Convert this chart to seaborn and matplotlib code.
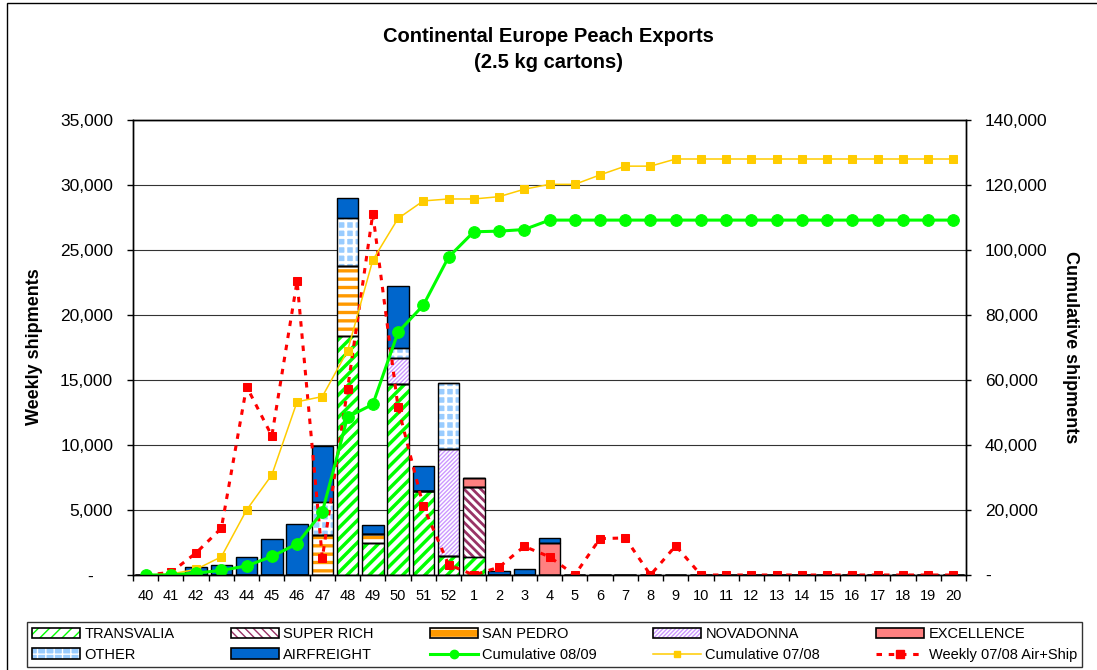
## Exportações de pêssego - Europa continental (caixas de 2.5 kg)
import numpy as np
import pandas as pd
import matplotlib
matplotlib.use("Agg")
import matplotlib.pyplot as plt
from matplotlib.patches import Patch, Rectangle
from matplotlib.lines import Line2D
from matplotlib.ticker import FuncFormatter, MultipleLocator
import seaborn as sns

plt.rcParams['font.family'] = ['Liberation Sans', 'DejaVu Sans']

# Semanas da temporada
weeks = ['40', '41', '42', '43', '44', '45', '46', '47', '48', '49', '50', '51', '52',
         '1', '2', '3', '4', '5', '6', '7', '8', '9', '10', '11', '12', '13', '14',
         '15', '16', '17', '18', '19', '20']

# Envios semanais por variedade (08/09)
transvalia = [0, 0, 0, 0, 0, 0, 0, 0, 18400, 2500, 14700, 6500, 1500,
              1400, 0, 0, 0, 0, 0, 0, 0, 0, 0, 0, 0, 0, 0, 0, 0, 0, 0, 0, 0]
super_rich = [0, 0, 0, 0, 0, 0, 0, 0, 0, 0, 0, 0, 0,
              5350, 0, 0, 0, 0, 0, 0, 0, 0, 0, 0, 0, 0, 0, 0, 0, 0, 0, 0, 0]
san_pedro = [0, 0, 0, 0, 0, 0, 0, 3100, 5400, 650, 0, 0, 0,
             0, 0, 0, 0, 0, 0, 0, 0, 0, 0, 0, 0, 0, 0, 0, 0, 0, 0, 0, 0]
novadonna = [0, 0, 0, 0, 0, 0, 0, 0, 0, 0, 2000, 0, 8200,
             0, 0, 0, 0, 0, 0, 0, 0, 0, 0, 0, 0, 0, 0, 0, 0, 0, 0, 0, 0]
excellence = [0, 0, 0, 0, 0, 0, 0, 0, 0, 0, 0, 0, 0,
              750, 0, 0, 2500, 0, 0, 0, 0, 0, 0, 0, 0, 0, 0, 0, 0, 0, 0, 0, 0]
other = [0, 0, 0, 0, 0, 0, 0, 2500, 3650, 0, 800, 0, 5100,
         0, 0, 0, 0, 0, 0, 0, 0, 0, 0, 0, 0, 0, 0, 0, 0, 0, 0, 0, 0]
airfreight = [0, 0, 600, 750, 1400, 2750, 3900, 4350, 1550, 700, 4700, 1900, 0,
              0, 300, 500, 350, 0, 0, 0, 0, 0, 0, 0, 0, 0, 0, 0, 0, 0, 0, 0, 0]

# Linhas: acumulado 08/09, acumulado 07/08 (eixo direito) e semanal 07/08 (eixo esquerdo)
cum_0809 = [0, 0, 600, 1400, 2800, 5700, 9600, 19400, 48600, 52500, 74700, 83000, 97800,
            105600, 105800, 106300, 109200, 109200, 109200, 109200, 109200, 109200, 109200,
            109200, 109200, 109200, 109200, 109200, 109200, 109200, 109200, 109200, 109200]
cum_0708 = [0, 300, 1750, 5600, 20000, 30800, 53300, 54900, 69000, 96900, 109700, 115100, 115700,
            115700, 116400, 118700, 120200, 120200, 123100, 125800, 125800, 128000, 128000,
            128000, 128000, 128000, 128000, 128000, 128000, 128000, 128000, 128000, 128000]
weekly_0708 = [0, 200, 1700, 3600, 14500, 10700, 22600, 1300, 14300, 27800, 12900, 5300, 800,
               0, 600, 2200, 1400, 0, 2800, 2850, 0, 2250, 0, 0, 0, 0, 0, 0, 0, 0, 0, 0, 0]

df = pd.DataFrame({'week': weeks, 'TRANSVALIA': transvalia, 'SUPER RICH': super_rich,
                   'SAN PEDRO': san_pedro, 'NOVADONNA': novadonna, 'EXCELLENCE': excellence,
                   'OTHER': other, 'AIRFREIGHT': airfreight})

# nome, cor de fundo, cor do padrão, padrão, espessura do padrão
estilos = [
    ('TRANSVALIA', 'white', '#00FF00', '///', 2.5),
    ('SUPER RICH', 'white', '#993366', '\\\\\\\\', 2.0),
    ('SAN PEDRO', 'white', '#FF9900', '--', 2.4),
    ('NOVADONNA', 'white', '#CC99FF', '////////', 1.0),
    ('EXCELLENCE', '#FF8080', '#FF8080', '', 1.0),
    ('OTHER', '#99CCFF', 'white', '++', 2.0),
    ('AIRFREIGHT', '#0066CC', '#0066CC', '', 1.0),
]

fig = plt.figure(figsize=(10.97, 6.70), dpi=100)
ax = fig.add_axes([133 / 1097, 1 - 575 / 670, 833 / 1097, 455 / 670])

# Barras empilhadas: padrão primeiro, depois o contorno preto
base = np.zeros(len(weeks))
for nome, face, hcor, hatch, hlw in estilos:
    with plt.rc_context({'hatch.linewidth': hlw}):
        n0 = len(ax.patches)
        sns.barplot(data=df, x='week', y=nome, order=weeks, color=face, saturation=1,
                    edgecolor=hcor, linewidth=0, hatch=hatch, bottom=base.copy(),
                    width=0.85, errorbar=None, ax=ax, zorder=2)
        for p in ax.patches[n0:]:
            if hasattr(p, 'set_hatch_linewidth'):
                p.set_hatch_linewidth(hlw)
    sns.barplot(data=df, x='week', y=nome, order=weeks, color='black', fill=False,
                edgecolor='black', linewidth=1.0, bottom=base.copy(), width=0.85,
                errorbar=None, ax=ax, zorder=3)
    base = base + df[nome].to_numpy()

x_pos = np.arange(len(weeks))

# Semanal 07/08 (tracejado vermelho)
sns.lineplot(x=x_pos, y=weekly_0708, ax=ax, color='#FF0000', linewidth=2.2,
             linestyle=(0, (1.8, 2.2)), marker='s', markersize=6.2,
             markeredgecolor='#FF0000', sort=False, errorbar=None, zorder=5)

# Eixo direito: acumulados
ax2 = ax.twinx()
sns.lineplot(x=x_pos, y=cum_0708, ax=ax2, color='#FFCC00', linewidth=1.1, marker='s',
             markersize=5.8, markeredgecolor='#FFCC00', sort=False, errorbar=None)
sns.lineplot(x=x_pos, y=cum_0809, ax=ax2, color='#00FF00', linewidth=2.2, marker='o',
             markersize=8.4, markeredgecolor='#00FF00', sort=False, errorbar=None)

ax.set_xlim(-0.5, len(weeks) - 0.5)
ax.set_ylim(0, 35000)
ax2.set_ylim(0, 140000)
ax.yaxis.set_major_locator(MultipleLocator(5000))
ax2.yaxis.set_major_locator(MultipleLocator(20000))
ax.yaxis.set_major_formatter(FuncFormatter(lambda v, p: '-    ' if v == 0 else f'{v:,.0f}'))
ax2.yaxis.set_major_formatter(FuncFormatter(lambda v, p: '-' if v == 0 else f'{v:,.0f}'))

ax.set_xticks(x_pos)
ax.set_xticklabels(weeks)
ax.set_xticks(np.arange(-0.5, len(weeks)), minor=True)
ax.tick_params(axis='x', which='major', length=0, pad=10, labelsize=10.5)
ax.tick_params(axis='x', which='minor', length=4, width=1, direction='out')
ax.tick_params(axis='y', length=4.3, width=1, pad=10, labelsize=12.5, direction='out')
ax2.tick_params(axis='y', length=3.6, width=1, pad=10, labelsize=12.5, direction='out')
ax.set_xlabel('')
ax.set_ylabel('')
ax2.set_ylabel('')

ax.yaxis.grid(True, color='#333333', linewidth=0.8)
ax.set_axisbelow(True)
for a in (ax, ax2):
    for s in a.spines.values():
        s.set_linewidth(1.0)
        s.set_color('black')

# Títulos
fig.text(0.5, 1 - 37 / 670, 'Continental Europe Peach Exports', ha='center', va='center',
         fontsize=14.5, fontweight='bold')
fig.text(0.5, 1 - 62 / 670, '(2.5 kg cartons)', ha='center', va='center',
         fontsize=14.5, fontweight='bold')
fig.text(35 / 1097, 1 - 347 / 670, 'Weekly shipments', rotation=90, ha='center', va='center',
         fontsize=13, fontweight='bold')
fig.text(1071 / 1097, 1 - 347 / 670, 'Cumulative shipments', rotation=270, ha='center',
         va='center', fontsize=13, fontweight='bold')

# Legenda (ordem por coluna)
def caixa(face, hcor, hatch, hlw):
    fundo = Patch(facecolor=face, edgecolor=hcor, hatch=hatch, linewidth=0)
    if hasattr(fundo, 'set_hatch_linewidth'):
        fundo.set_hatch_linewidth(hlw)
    return (fundo, Patch(facecolor='none', edgecolor='black', linewidth=1.2))

# na legenda o San Pedro fica laranja com listra branca
estilos_leg = [('SAN PEDRO', '#FF9900', 'white', '--', 1.5) if e[0] == 'SAN PEDRO' else e
               for e in estilos]
h = {}
for nome, face, hcor, hatch, hlw in estilos_leg:
    with plt.rc_context({'hatch.linewidth': hlw}):
        h[nome] = caixa(face, hcor, hatch, hlw)
h['Cumulative 08/09'] = Line2D([], [], color='#00FF00', lw=2.2, marker='o', markersize=6)
h['Cumulative 07/08'] = Line2D([], [], color='#FFCC00', lw=1.1, marker='s', markersize=5)
h['Weekly 07/08 Air+Ship'] = Line2D([], [], color='#FF0000', lw=2.2, ls=(0, (1.8, 2.2)),
                                    marker='s', markersize=6)
ordem = ['TRANSVALIA', 'OTHER', 'SUPER RICH', 'AIRFREIGHT', 'SAN PEDRO', 'Cumulative 08/09',
         'NOVADONNA', 'Cumulative 07/08', 'EXCELLENCE', 'Weekly 07/08 Air+Ship']
leg = fig.legend([h[k] for k in ordem], ordem, ncol=5, mode='expand', loc='center',
                 bbox_to_anchor=(27 / 1097, 3 / 670, 1055 / 1097, 45 / 670),
                 frameon=True, fancybox=False, edgecolor='#333333', framealpha=1,
                 fontsize=10.5, handlelength=3.3, handleheight=0.75, handletextpad=0.3,
                 borderpad=0.35, labelspacing=0.45, borderaxespad=0)
leg.get_frame().set_linewidth(1.0)

# Borda do gráfico
fig.add_artist(Rectangle((6.5 / 1097, -0.1), 1.2, 1.1 - 3.5 / 670, transform=fig.transFigure,
                         fill=False, edgecolor='black', linewidth=1))

fig.savefig('out.png', dpi=100)
